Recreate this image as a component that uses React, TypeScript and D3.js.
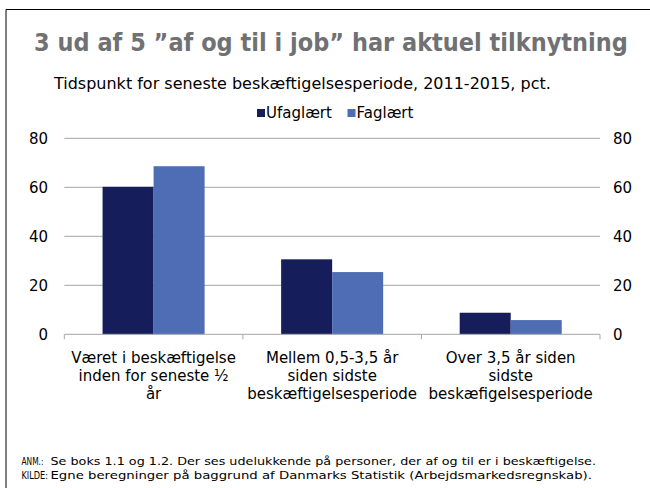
import { useEffect, useRef } from "react"
import * as d3 from "d3"

const categories = [
    ["Været i beskæftigelse", "inden for seneste ½", "år"],
    ["Mellem 0,5-3,5 år", "siden sidste", "beskæftigelsesperiode"],
    ["Over 3,5 år siden", "sidste", "beskæfigelsesperiode"],
]
const seriesNames = ["Ufaglært", "Faglært"]
const ufaglaert = [60.2, 30.6, 8.8]
const faglaert = [68.6, 25.4, 5.8]
const yTicks = [0, 20, 40, 60, 80]
const colors = ["#161d5b", "#4f6db4"]

const title = "3 ud af 5 \u201daf og til i job\u201d har aktuel tilknytning"
const subtitle = "Tidspunkt for seneste beskæftigelsesperiode, 2011-2015, pct."
const noteLabels = ["ANM.:", "KILDE:"]
const noteTexts = [
    "Se boks 1.1 og 1.2. Der ses udelukkende på personer, der af og til er i beskæftigelse.",
    "Egne beregninger på baggrund af Danmarks Statistik (Arbejdsmarkedsregnskab).",
]

const font = "'DejaVu Sans', Verdana, sans-serif"

// squeeze a text horizontally so it spans the given width
function fit(sel: d3.Selection<SVGTextElement, unknown, null, undefined>, x: number, y: number, width: number) {
    const w = sel.node()?.getComputedTextLength() || width
    sel.attr("x", 0).attr("y", 0).attr("transform", `translate(${x},${y}) scale(${width / w},1)`)
}

export default function App() {
    const ref = useRef<SVGSVGElement>(null)

    useEffect(() => {
        const svg = d3.select(ref.current)
        svg.selectAll("*").remove()

        // frame
        svg.append("path")
            .attr("d", "M6,488V9.5H650")
            .attr("fill", "none")
            .attr("stroke", "#000")
            .attr("stroke-width", 1)

        const titleText = svg.append("text")
            .attr("font-family", font)
            .attr("font-weight", "bold")
            .attr("font-size", 24)
            .attr("fill", "#707173")
            .text(title)
        fit(titleText as any, 34, 51, 594)

        const sub = svg.append("text")
            .attr("font-family", font)
            .attr("font-size", 15)
            .attr("fill", "#000")
            .text(subtitle)
        fit(sub as any, 54, 89, 497)

        // legend
        const legendX = [257, 347.5]
        seriesNames.forEach((name, i) => {
            svg.append("rect")
                .attr("x", legendX[i])
                .attr("y", 109)
                .attr("width", 8)
                .attr("height", 8)
                .attr("fill", colors[i])
            svg.append("text")
                .attr("x", legendX[i] + 9)
                .attr("y", 117.5)
                .attr("font-family", font)
                .attr("font-size", 15)
                .text(name)
        })

        const margin = { left: 64.3, right: 600, top: 138.3, bottom: 334.3 }
        const x0 = d3.scaleBand<number>()
            .domain(d3.range(categories.length))
            .range([margin.left, margin.right])
        const x1 = d3.scaleBand<number>()
            .domain([0, 1])
            .range([0, x0.bandwidth()])
            .paddingOuter(0.75)
            .paddingInner(0)
        const y = d3.scaleLinear().domain([0, 80]).range([margin.bottom, margin.top])

        // gridlines
        svg.append("g")
            .selectAll("line")
            .data(yTicks.filter(t => t > 0))
            .join("line")
            .attr("x1", margin.left)
            .attr("x2", margin.right)
            .attr("y1", d => y(d))
            .attr("y2", d => y(d))
            .attr("stroke", "#a6a6a6")
            .attr("stroke-width", 1)

        // tick labels on both sides
        ;[
            { x: 48, anchor: "end" },
            { x: 613, anchor: "start" },
        ].forEach(side => {
            svg.append("g")
                .selectAll("text")
                .data(yTicks)
                .join("text")
                .attr("x", side.x)
                .attr("y", d => y(d) + 5.5)
                .attr("text-anchor", side.anchor)
                .attr("font-family", font)
                .attr("font-size", 15)
                .text(d => d)
        })

        // bars
        const series = [ufaglaert, faglaert]
        series.forEach((vals, si) => {
            svg.append("g")
                .selectAll("rect")
                .data(vals)
                .join("rect")
                .attr("x", (_, i) => (x0(i) ?? 0) + (x1(si) ?? 0))
                .attr("y", d => y(d))
                .attr("width", x1.bandwidth())
                .attr("height", d => y(0) - y(d))
                .attr("fill", colors[si])
        })

        // x axis
        svg.append("line")
            .attr("x1", margin.left)
            .attr("x2", margin.right)
            .attr("y1", y(0))
            .attr("y2", y(0))
            .attr("stroke", "#a6a6a6")
        const bounds = d3.range(categories.length + 1).map(i => margin.left + i * x0.step())
        svg.append("g")
            .selectAll("line")
            .data(bounds)
            .join("line")
            .attr("x1", d => d)
            .attr("x2", d => d)
            .attr("y1", y(0))
            .attr("y2", y(0) + 5)
            .attr("stroke", "#a6a6a6")

        categories.forEach((lines, i) => {
            const cx = (x0(i) ?? 0) + x0.bandwidth() / 2
            const t = svg.append("text")
                .attr("text-anchor", "middle")
                .attr("font-family", font)
                .attr("font-size", 15)
            lines.forEach((line, li) => {
                t.append("tspan")
                    .attr("x", cx)
                    .attr("y", 363 + li * 18)
                    .text(line)
            })
        })

        // notes
        const labelWidths = [22, 26.5]
        const textWidths = [546, 542]
        noteLabels.forEach((label, i) => {
            const l = svg.append("text")
                .attr("font-family", font)
                .attr("font-size", 10)
                .text(label)
            fit(l as any, 21.5, 465 + i * 14, labelWidths[i])
            const t = svg.append("text")
                .attr("font-family", font)
                .attr("font-size", 11)
                .text(noteTexts[i])
            fit(t as any, 50.5, 465 + i * 14, textWidths[i])
        })
    }, [])

    return (
        <svg
            ref={ref}
            width={650}
            height={488}
            style={{ position: "absolute", left: 0, top: 0, background: "#fff" }}
        />
    )
}
